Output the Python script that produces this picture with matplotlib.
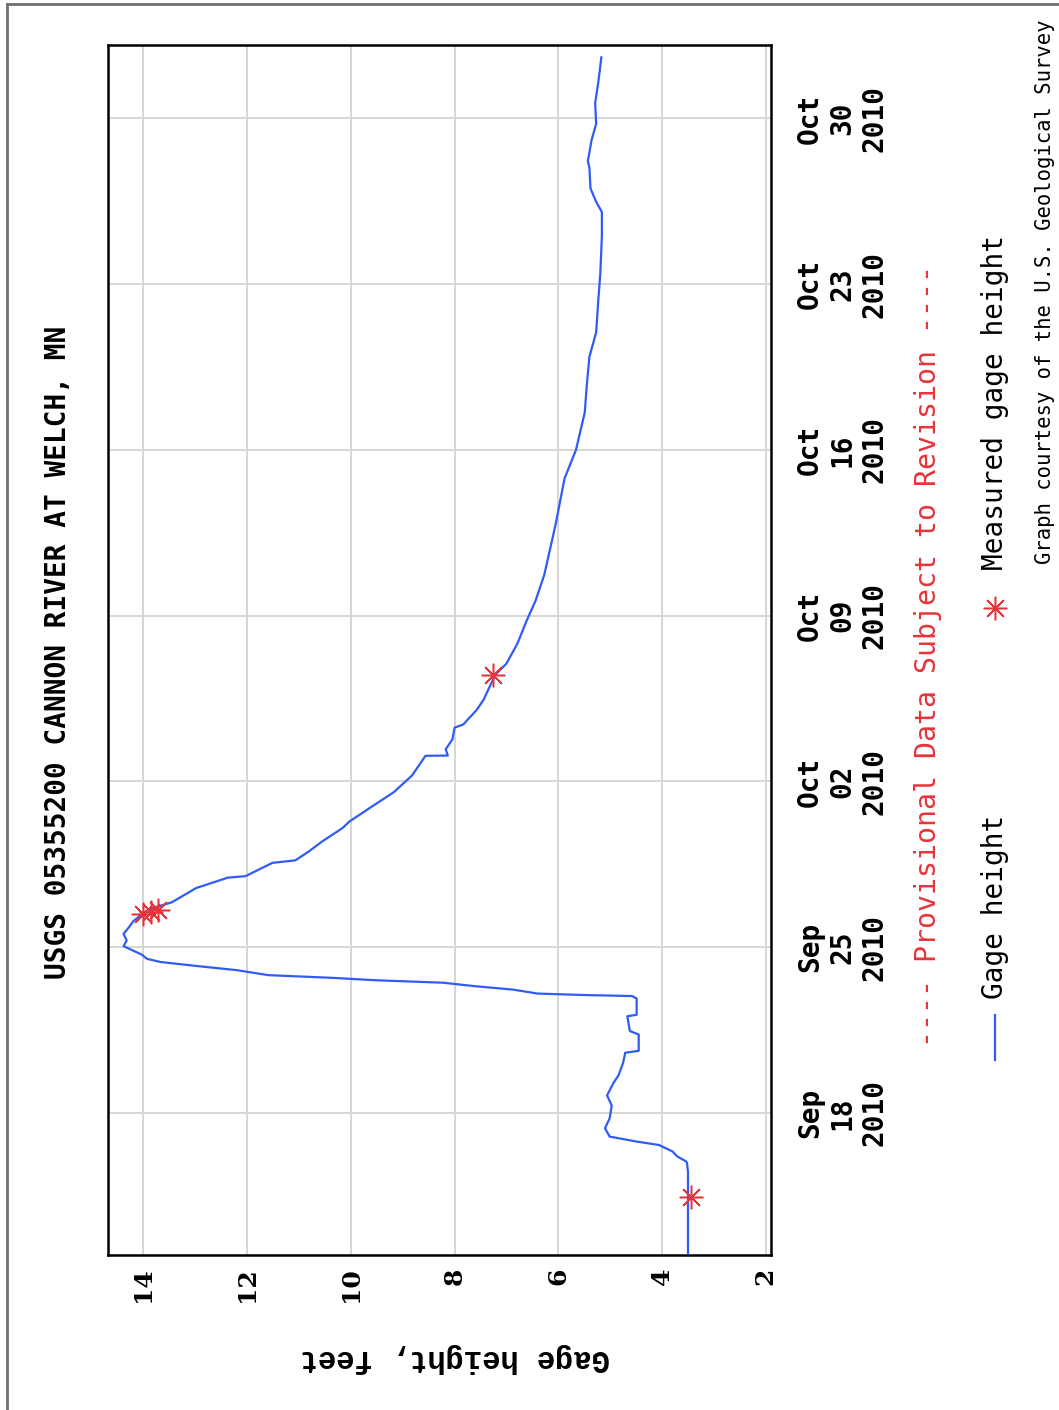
import matplotlib
matplotlib.use("Agg")
import matplotlib.pyplot as plt
from matplotlib.lines import Line2D
import pandas as pd

# ---------------- data ----------------
gage_times = [
    "09-12 00:00", "09-15 12:00", "09-15 21:30", "09-15 23:00", "09-16 04:00",
    "09-16 09:00", "09-16 15:30", "09-16 19:00", "09-17 00:00", "09-17 08:30",
    "09-17 18:30", "09-18 07:30", "09-18 17:45", "09-19 07:00", "09-19 14:00",
    "09-20 03:00", "09-20 13:00", "09-20 15:00", "09-21 07:30", "09-21 11:00",
    "09-22 02:00", "09-22 03:30", "09-22 20:00", "09-22 22:30", "09-22 23:30",
    "09-23 01:00", "09-23 05:00", "09-23 08:30", "09-23 12:00", "09-23 14:30",
    "09-23 17:00", "09-23 19:40", "09-24 00:45", "09-24 04:30", "09-24 09:00",
    "09-24 12:15", "09-24 16:30", "09-25 01:00", "09-25 06:45", "09-25 13:30",
    "09-25 20:00", "09-26 02:30", "09-26 09:15", "09-26 14:30", "09-26 21:30",
    "09-27 12:00", "09-27 22:30", "09-28 00:00", "09-28 13:30", "09-28 16:00",
    "09-29 01:00", "09-29 11:15", "09-30 00:45", "09-30 07:15", "09-30 22:20",
    "10-01 13:10", "10-02 06:00", "10-03 02:00", "10-03 02:15", "10-03 08:40",
    "10-03 18:45", "10-04 06:30", "10-04 09:50", "10-05 00:45", "10-05 10:50",
    "10-05 21:00", "10-06 11:45", "10-06 23:30", "10-07 19:30", "10-08 19:00",
    "10-09 15:00", "10-10 17:30", "10-12 21:00", "10-14 19:00", "10-16 00:00",
    "10-17 14:00", "10-18 18:15", "10-19 22:30", "10-20 23:15", "10-22 07:00",
    "10-23 11:00", "10-25 01:00", "10-26 01:15", "10-26 11:30", "10-27 01:15",
    "10-27 22:00", "10-28 04:45", "10-29 01:45", "10-29 18:45", "10-30 15:30",
    "10-31 12:15", "11-01 14:00",
]
gage_values = [
    3.50, 3.50, 3.52, 3.54, 3.71,
    3.80, 4.06, 4.49, 5.01, 5.10,
    5.01, 4.97, 5.06, 4.93, 4.84,
    4.75, 4.71, 4.45, 4.45, 4.62,
    4.67, 4.49, 4.49, 4.58, 5.49,
    6.40, 6.87, 7.61, 8.22, 9.52,
    10.38, 11.59, 12.20, 12.89, 13.67,
    13.93, 14.03, 14.38, 14.32, 14.38,
    14.28, 14.19, 14.03, 13.89, 13.45,
    12.98, 12.37, 12.03, 11.51, 11.07,
    10.81, 10.55, 10.16, 10.03, 9.60,
    9.17, 8.82, 8.56, 8.13, 8.17,
    8.04, 8.00, 7.83, 7.57, 7.44,
    7.35, 7.22, 7.00, 6.79, 6.61,
    6.44, 6.27, 6.05, 5.88, 5.66,
    5.49, 5.45, 5.40, 5.27, 5.23,
    5.19, 5.16, 5.16, 5.27, 5.38,
    5.40, 5.43, 5.36, 5.27, 5.29,
    5.23, 5.17,
]
measured_times = ["09-14 10:45", "09-26 10:00", "09-26 12:00", "09-26 13:30", "10-06 11:45"]
measured_values = [3.45, 14.00, 13.85, 13.72, 7.25]

gage_ticks = [14, 12, 10, 8, 6, 4, 2]
date_ticks = ["09-18", "09-25", "10-02", "10-09", "10-16", "10-23", "10-30"]
date_tick_labels = ["Sep\n18\n2010", "Sep\n25\n2010", "Oct\n02\n2010", "Oct\n09\n2010",
                    "Oct\n16\n2010", "Oct\n23\n2010", "Oct\n30\n2010"]

title = "USGS 05355200 CANNON RIVER AT WELCH, MN"
axis_label = "Gage height, feet"
provisional = "---- Provisional Data Subject to Revision ----"
legend_line = "Gage height"
legend_star = "Measured gage height"
courtesy = "Graph courtesy of the U.S. Geological Survey"

# ---------------- drawing ----------------
W, H = 1059, 1410
BLUE = "#2f5cf6"
RED = "#e8333a"


def fx(px):
    return px / W


def fy(py):
    return 1 - py / H


def to_dt(s):
    return pd.to_datetime(["2010-" + t for t in s])


fig = plt.figure(figsize=(W / 100, H / 100), dpi=100)
ax = fig.add_axes([fx(108), fy(1255), (771 - 108) / W, (1255 - 45) / H])

gt = to_dt(gage_times)
ax.plot(gage_values, gt, color=BLUE, lw=1.6, zorder=3)
mt = to_dt(measured_times)
ax.plot(measured_values, mt, ls="none", marker=(8, 2, 0), ms=17,
        mec=RED, mfc=RED, mew=1.1, zorder=4)

ax.set_xlim(14.68, 1.9)
ax.set_ylim(pd.Timestamp("2010-09-12 00:00"), pd.Timestamp("2010-11-02 02:30"))

ax.set_xticks(gage_ticks)
ax.set_xticklabels([str(v) for v in gage_ticks], rotation=90,
                   family="DejaVu Serif", weight="bold", fontsize=18)
ax.tick_params(axis="x", length=0, pad=9)

ax.yaxis.tick_right()
ax.set_yticks(to_dt(date_ticks))
ax.set_yticklabels(date_tick_labels, family="DejaVu Sans Mono", weight="bold",
                   fontsize=20)
for lab in ax.get_yticklabels():
    lab.set_rotation(90)
    lab.set_va("center")
    lab.set_ha("left")
    lab.set_multialignment("center")
ax.tick_params(axis="y", length=0, pad=18)

ax.grid(True, color="#d6d6d6", lw=1.4)
ax.set_axisbelow(True)
for sp in ax.spines.values():
    sp.set_linewidth(1.8)
    sp.set_color("black")

fig.text(fx(58), fy(652), title, rotation=90, ha="center", va="center",
         family="DejaVu Sans Mono", weight="bold", fontsize=20)
fig.text(fx(455), fy(1358), axis_label, rotation=180, ha="center", va="center",
         family="Liberation Mono", weight="bold", fontsize=22)
fig.text(fx(928), fy(656), provisional, rotation=90, ha="center", va="center",
         family="DejaVu Sans Mono", fontsize=20.3, color=RED)

fig.add_artist(Line2D([fx(995), fx(995)], [fy(1015), fy(1060)], color=BLUE, lw=1.6,
                      transform=fig.transFigure))
fig.text(fx(995), fy(907), legend_line, rotation=90, ha="center", va="center",
         family="DejaVu Sans Mono", fontsize=20)
fig.add_artist(Line2D([fx(995)], [fy(608)], ls="none", marker=(8, 2, 0), ms=17,
                      mec=RED, mew=1.1, transform=fig.transFigure))
fig.text(fx(995), fy(402), legend_star, rotation=90, ha="center", va="center",
         family="DejaVu Sans Mono", fontsize=20)
fig.text(fx(1045), fy(292), courtesy, rotation=90, ha="center", va="center",
         family="DejaVu Sans Mono", fontsize=14.8)

# outer frame
fig.add_artist(Line2D([fx(7), fx(7)], [fy(4), 0], color="#707070", lw=2,
                      transform=fig.transFigure))
fig.add_artist(Line2D([fx(7), 1], [fy(4), fy(4)], color="#707070", lw=2,
                      transform=fig.transFigure))

fig.savefig("out.png", dpi=100, facecolor="white")
